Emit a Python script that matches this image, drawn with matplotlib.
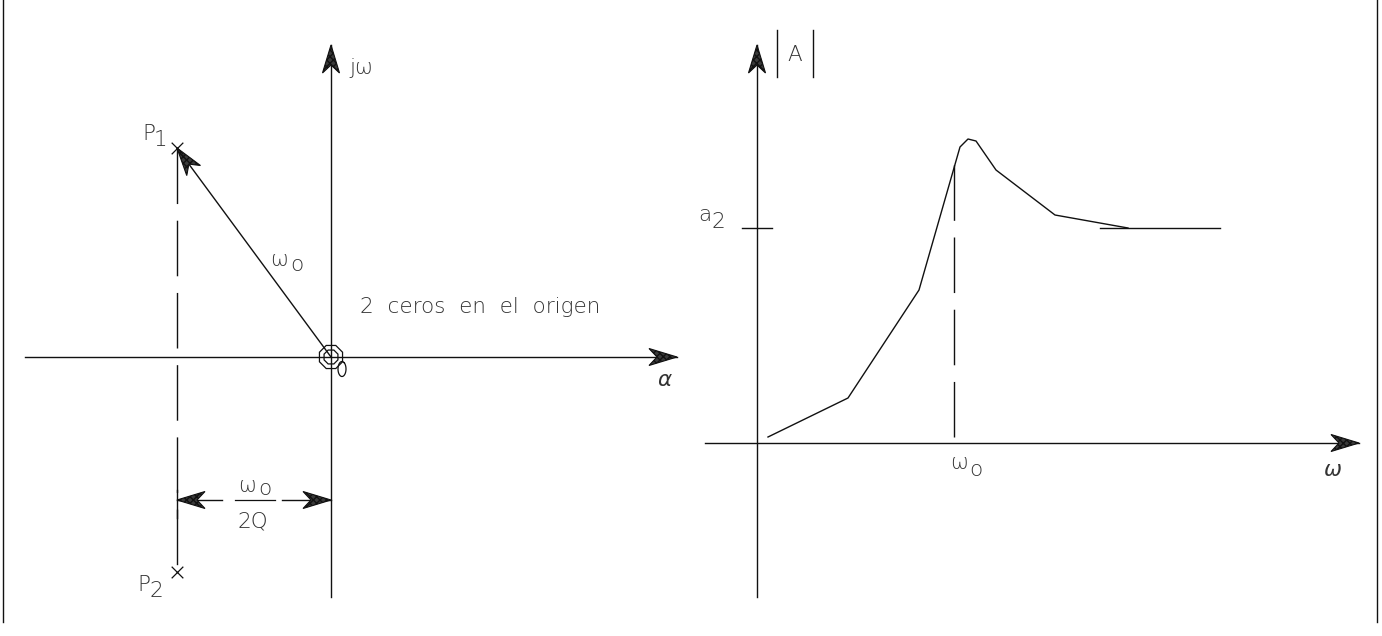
import numpy as np
import matplotlib
matplotlib.use("Agg")
import matplotlib.pyplot as plt
from matplotlib.patches import Polygon, RegularPolygon

# --- s-plane: poles and zeros (units of 100 px) ---
pole_re = [-1.54, -1.54]
pole_im = [2.09, -2.15]
pole_subs = ["1", "2"]
zero_re = [0.0]
zero_im = [0.0]

# --- magnitude response |A| vs omega ---
omega = [0.11, 0.91, 1.62, 2.03, 2.11, 2.19, 2.39, 2.98, 3.71]
mag = [0.06, 0.45, 1.53, 2.96, 3.04, 3.02, 2.73, 2.28, 2.15]
a2_level = 2.15
a2_span = [3.43, 4.63]
omega0 = 1.97

W, H = 1382, 636
DPI = 100
fig = plt.figure(figsize=(W / DPI, H / DPI), dpi=DPI)
fig.patch.set_facecolor("white")

INK = "#111111"
TXT = dict(color="#333333", fontsize=15.5, family="DejaVu Sans", fontweight="light")
LW = 1.0
DASH = (40, 12)


def make_axes(px_left, px_right, origin_x, origin_y):
    """Axes spanning a pixel strip, scaled at 100 px per data unit."""
    ax = fig.add_axes([px_left / W, 0, (px_right - px_left) / W, 1])
    ax.set_xlim((px_left - origin_x) / 100, (px_right - origin_x) / 100)
    ax.set_ylim(-(H - origin_y) / 100, origin_y / 100)
    ax.axis("off")
    return ax


def arrowhead(ax, tip, direction, length=0.28, half=0.085, notch=0.08):
    d = np.asarray(direction, float)
    d /= np.hypot(*d)
    n = np.array([-d[1], d[0]])
    t = np.asarray(tip, float)
    back = t - d * length
    pts = [t, back + n * half, t - d * (length - notch), back - n * half]
    ax.add_patch(Polygon(pts, closed=True, facecolor="#3a3a3a", edgecolor=INK,
                         hatch="xxxxx", lw=0.8, zorder=5))


def arrow_line(ax, start, tip):
    ax.plot([start[0], tip[0]], [start[1], tip[1]], color=INK, lw=LW)
    arrowhead(ax, tip, (tip[0] - start[0], tip[1] - start[1]))


def label_sub(ax, x, y, main, sub, dx=18, dy=-7, **kw):
    """Main symbol with a lowered, full-size suffix (drafting style)."""
    ax.text(x, y, main, ha="center", va="center", **TXT, **kw)
    ax.annotate(sub, xy=(x, y), xytext=(dx, dy), textcoords="offset pixels",
                ha="center", va="center", **TXT)


# frame lines at the figure edges
edge = fig.add_axes([0, 0, 1, 1])
edge.set_xlim(0, W)
edge.set_ylim(H, 0)
edge.axis("off")
edge.plot([3, 3], [0, 622], color=INK, lw=LW)
edge.plot([1377, 1377], [0, 622], color=INK, lw=LW)

# ===================== left: pole-zero diagram =====================
axl = make_axes(0, 691, 331, 357)
arrow_line(axl, (-3.06, 0), (3.46, 0))
arrow_line(axl, (0, -2.40), (0, 3.12))
axl.text(0.18, 2.89, "j\u03c9", ha="left", va="center", **TXT)
axl.text(3.26, -0.23, "\u03b1", ha="left", va="center", style="italic", **TXT)

# vector from origin to the upper pole
arrow_line(axl, (zero_re[0], zero_im[0]), (pole_re[0], pole_im[0]))
label_sub(axl, -0.52, 0.97, "\u03c9", "o", dx=18, dy=-5)

# poles
axl.scatter(pole_re, pole_im, marker="x", s=70, color=INK, linewidths=0.9, zorder=6)
label_sub(axl, pole_re[0] - 0.28, pole_im[0] + 0.14, "P", pole_subs[0], dx=12, dy=-6)
label_sub(axl, pole_re[1] - 0.33, pole_im[1] - 0.13, "P", pole_subs[1], dx=12, dy=-6)
axl.plot([pole_re[0], pole_re[1]], [pole_im[0], pole_im[1]], color=INK, lw=LW,
         dashes=DASH)

# double zero at the origin
for r in (0.125, 0.075):
    axl.add_patch(RegularPolygon((zero_re[0], zero_im[0]), numVertices=8, radius=r,
                                 orientation=np.pi / 8, fill=False, edgecolor=INK, lw=0.9))
tt = np.linspace(0.3 * np.pi, 2.3 * np.pi, 60)
axl.plot(0.11 + 0.04 * np.cos(tt), -0.12 + 0.075 * np.sin(tt), color=INK, lw=0.9)
axl.text(0.29, 0.50, "2  ceros  en  el  origen", ha="left", va="center", **TXT)

# dimension: distance of the poles from the jw axis
dim_y = -1.43
axl.plot([pole_re[0], pole_re[0]], [dim_y + 0.10, dim_y - 0.18], color=INK, lw=LW)
arrow_line(axl, (-1.09, dim_y), (pole_re[0], dim_y))
arrow_line(axl, (-0.49, dim_y), (zero_re[0], dim_y))
axl.plot([-0.96, -0.56], [dim_y, dim_y], color=INK, lw=0.9)
label_sub(axl, -0.84, dim_y + 0.14, "\u03c9", "o", dx=18, dy=-3)
axl.text(-0.78, dim_y - 0.21, "2Q", ha="center", va="center", **TXT)

# ===================== right: magnitude response =====================
axr = make_axes(691, W, 757, 443)
arrow_line(axr, (-0.52, 0), (6.02, 0))
arrow_line(axr, (0, -1.54), (0, 3.98))
axr.plot(omega, mag, color=INK, lw=LW)
axr.plot(a2_span, [a2_level, a2_level], color=INK, lw=LW)
axr.plot([-0.15, 0.15], [a2_level, a2_level], color=INK, lw=LW)
label_sub(axr, -0.52, a2_level + 0.13, "a", "2", dx=13, dy=-7)
axr.plot([omega0, omega0], [0.06, 2.80], color=INK, lw=LW, dashes=DASH)
label_sub(axr, omega0 + 0.05, -0.20, "\u03c9", "o", dx=17, dy=-7)
axr.text(5.76, -0.27, "\u03c9", ha="center", va="center", style="italic", **TXT)

# |A| label with bars
axr.plot([0.20, 0.20], [3.66, 4.13], color=INK, lw=LW)
axr.plot([0.56, 0.56], [3.66, 4.13], color=INK, lw=LW)
axr.text(0.38, 3.88, "A", ha="center", va="center", **TXT)

fig.savefig("out.png", dpi=DPI, facecolor="white")
